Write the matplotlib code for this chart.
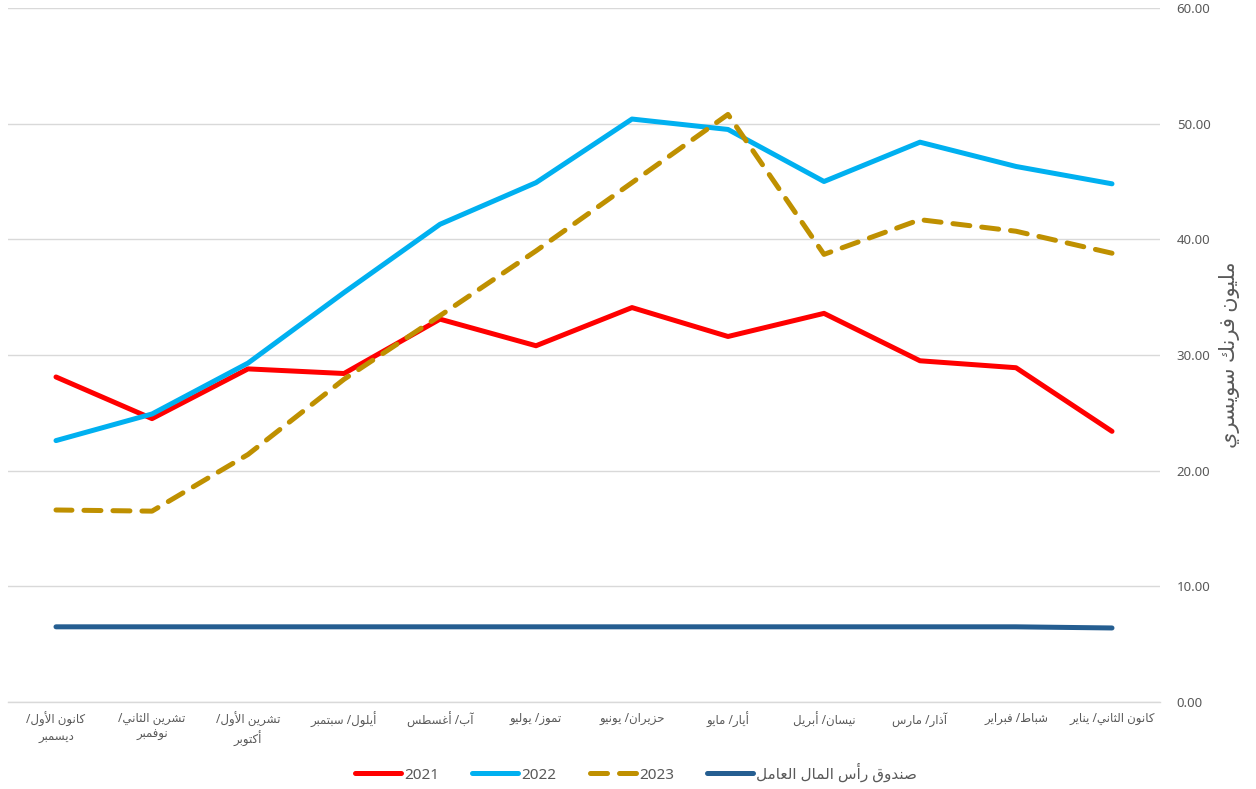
import unicodedata
import matplotlib
matplotlib.use("Agg")
import matplotlib.pyplot as plt

# ---------------- data ----------------
months = ["كانون الثاني/ يناير", "شباط/ فبراير", "آذار/ مارس", "نيسان/ أبريل",
          "أيار/ مايو", "حزيران/ يونيو", "تموز/ يوليو", "آب/ أغسطس",
          "أيلول/ سبتمبر", "تشرين الأول/\nأكتوبر", "تشرين الثاني/\nنوفمبر",
          "كانون الأول/\nديسمبر"]
y2021 = [23.4, 28.9, 29.5, 33.6, 31.6, 34.1, 30.8, 33.1, 28.4, 28.8, 24.5, 28.1]
y2022 = [44.8, 46.3, 48.4, 45.0, 49.5, 50.4, 44.9, 41.3, 35.4, 29.3, 24.9, 22.6]
y2023 = [38.8, 40.7, 41.7, 38.7, 50.8, 44.9, 39.0, 33.4, 27.9, 21.4, 16.5, 16.6]
fund = [6.4, 6.5, 6.5, 6.5, 6.5, 6.5, 6.5, 6.5, 6.5, 6.5, 6.5, 6.5]
series_labels = ["2021", "2022", "2023", "صندوق رأس المال العامل"]
y_label = "مليون فرنك سويسري"
y_ticks = [0, 10, 20, 30, 40, 50, 60]

# ---------------- Arabic shaping (presentation forms + RTL) ----------------
RIGHT_ONLY = set("اأإآدذرزوؤةى")
LAM = "ل"
LAM_ALEF = {"ا": "ARABIC LIGATURE LAM WITH ALEF",
            "أ": "ARABIC LIGATURE LAM WITH ALEF WITH HAMZA ABOVE",
            "إ": "ARABIC LIGATURE LAM WITH ALEF WITH HAMZA BELOW",
            "آ": "ARABIC LIGATURE LAM WITH ALEF WITH MADDA ABOVE"}


def is_ar(c):
    return "\u0621" <= c <= "\u064A" and c != "ء"


def dual(c):
    return is_ar(c) and c not in RIGHT_ONLY


def form(name, f):
    try:
        return unicodedata.lookup(name + " " + f + " FORM")
    except KeyError:
        return None


def shape_line(s):
    out = []
    i = 0
    n = len(s)
    while i < n:
        c = s[i]
        if not is_ar(c):
            out.append(c)
            i += 1
            continue
        prev_join = i > 0 and dual(s[i - 1])
        if c == LAM and i + 1 < n and s[i + 1] in LAM_ALEF:
            f = "FINAL" if prev_join else "ISOLATED"
            g = form(LAM_ALEF[s[i + 1]], f)
            out.append(g if g else c + s[i + 1])
            i += 2
            continue
        next_join = dual(c) and i + 1 < n and is_ar(s[i + 1])
        if prev_join and next_join:
            f = "MEDIAL"
        elif prev_join:
            f = "FINAL"
        elif next_join:
            f = "INITIAL"
        else:
            f = "ISOLATED"
        g = form(unicodedata.name(c), f)
        out.append(g if g else c)
        i += 1
    return "".join(out)[::-1]


def ar(s):
    return "\n".join(shape_line(line) for line in s.split("\n"))


# ---------------- plot ----------------
plt.rcParams["font.family"] = ["Noto Sans", "DejaVu Sans"]

fig = plt.figure(figsize=(12.56, 7.89), dpi=100)
ax = fig.add_axes([8 / 1256, 1 - 702 / 789, (1160 - 8) / 1256, (702 - 8) / 789])

x = list(range(len(months)))
lw = 3.6
ax.plot(x, y2021, color="#FF0000", lw=lw, solid_capstyle="round",
        solid_joinstyle="round", label=series_labels[0], zorder=3)
ax.plot(x, y2022, color="#00B0F0", lw=lw, solid_capstyle="round",
        solid_joinstyle="round", label=series_labels[1], zorder=4)
ax.plot(x, y2023, color="#BF9000", lw=lw, dashes=(3.4, 2.4),
        dash_capstyle="round", dash_joinstyle="round",
        label=series_labels[2], zorder=5)
ax.plot(x, fund, color="#255E91", lw=lw, solid_capstyle="round",
        label=ar(series_labels[3]), zorder=6)

ax.set_xlim(len(months) - 0.5, -0.5)
ax.set_ylim(0, 60)
ax.set_yticks(y_ticks)
ax.set_yticklabels([f"{v:.2f}" for v in y_ticks])
ax.yaxis.tick_right()
ax.tick_params(axis="y", length=0, pad=12, labelsize=9.5, labelcolor="#595959")
ax.set_xticks(x)
ax.set_xticklabels([ar(m) for m in months], fontsize=8.5, color="#595959",
                   linespacing=1.3, va="top")
ax.tick_params(axis="x", length=0, pad=7)

ax.grid(axis="y", color="#D9D9D9", lw=1)
ax.set_axisbelow(True)
for s in ["top", "left", "right"]:
    ax.spines[s].set_visible(False)
ax.spines["bottom"].set_color("#D9D9D9")
ax.spines["bottom"].set_linewidth(1)

fig.text(1230 / 1256, 1 - 355 / 789, ar(y_label), rotation=90, ha="center",
         va="center", fontsize=15, color="#595959")

fig.legend(loc="center", bbox_to_anchor=(636 / 1256, 1 - 773 / 789), ncol=4,
           frameon=False, fontsize=11, handlelength=3.0, handletextpad=0.2,
           columnspacing=2.2, labelcolor="#595959")

fig.savefig("out.png", dpi=100)
